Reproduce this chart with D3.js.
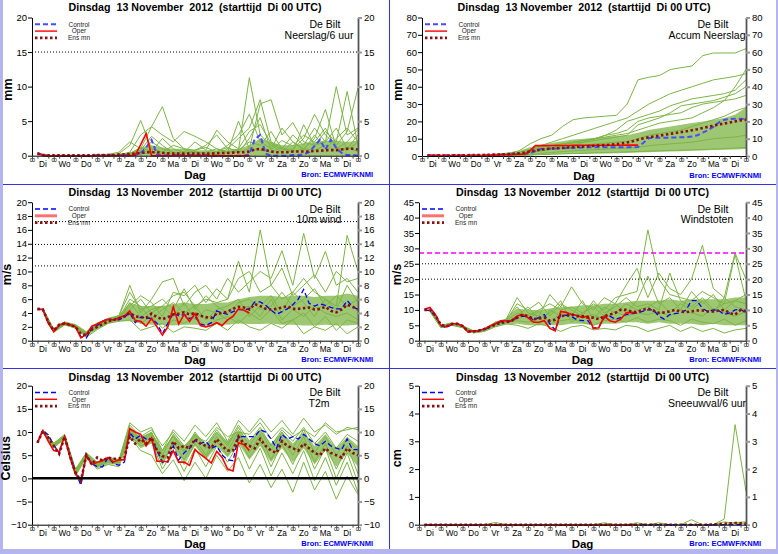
<!DOCTYPE html>
<html>
<head>
<meta charset="utf-8">
<script src="https://cdn.jsdelivr.net/npm/d3@7"></script>
<style>
body { margin: 0; background: #fff; }
text { font-family: "Liberation Sans", Arial, sans-serif; }
</style>
</head>
<body>
<script>
// x axis: 15 days from Di 00 UTC, values every 6 h (first at +6 h), members every 12 h
var days = ["Di","Wo","Do","Vr","Za","Zo","Ma","Di","Wo","Do","Vr","Za","Zo","Ma","Di"];
var title = "Dinsdag  13 November  2012  (starttijd  Di 00 UTC)";

// ---- Neerslag/6 uur (mm)
var precipCtrl = [0.4,0.1,0,0,0,0,0,0,0,0,0, 0.1,0.1,0.1,0.1,0.1,0.1,0.1,0.1, 0.4,1.2,2.3,0.2, 0,
  0.1,0.1,0.1,0.1,0.1,0.1,0.1,0.1, 0,0,0,0,0,0,0, 0.2,2.4,3.0,0.3, 0,0,0,0, 0.1,0.1,
  0.2,0.5,1.4,2.3,0.9,2.3,1.1,0.4,0.1,0.1,0];
var precipOper = [0.3,0.1, 0,0,0,0,0,0,0,0,0,0,0,0,0,0,0,0, 0.1,1.6,3.2,0,
  0,0,0,0,0,0,0,0,0,0,0,0,0,0,0,0,0,0];
var precipMean = [0.3,0.1,0.05,0.05,0.05,0.05,0.05,0.05,0.05,0.05,0.05,
  0.1,0.1,0.1,0.1,0.15,0.2,0.25,0.3,0.4,0.5,0.5,0.5,0.4,0.35,0.3,0.3,0.3,0.3,0.3,0.3,0.3,0.3,
  0.35,0.4,0.4,0.45,0.5,0.5,0.6,0.9,1.0,0.8,0.6,0.5,0.5,0.5,0.6,0.6,0.6,0.6,0.7,0.7,0.8,0.8,0.8,0.9,1.0,1.0,0.9];
var precipMembers = [
  [0,0,0,0,0,0,0.1,0.3,1.5,5.1,1.0,0.5,0.3,0.2,0.6,0.3,0.2,1.0,0.8,11.3,3.0,1.5,0.5,2.0,1.0,2.5,6.7,1.2,0.8,2.0],
  [0,0,0,0,0,0.1,0.2,0.5,2.0,1.0,4.2,7.1,2.5,1.0,0.8,1.5,3.0,1.0,2.5,4.0,8.1,2.0,1.0,3.0,1.5,4.0,2.0,10.0,3.0,4.0],
  [0,0,0,0,0,0,0,0.1,0.5,3.0,4.2,3.0,2.0,3.5,2.8,2.0,1.0,0.5,5.0,1.0,7.5,8.1,3.0,4.8,2.0,1.5,3.5,2.0,9.3,1.5],
  [0,0,0,0,0,0,0.1,0.2,0.3,1.2,0.6,2.5,1.0,0.5,2.0,0.8,3.7,2.0,1.0,3.5,4.5,1.8,0.8,1.0,2.5,6.0,3.0,1.5,3.5,9.8],
  [0,0,0,0,0,0,0,0,0.2,0.5,2.0,1.0,0.5,0.3,0.8,1.2,0.5,1.5,3.0,6.0,2.0,1.0,4.0,2.0,0.8,3.0,1.0,2.5,4.0,2.0],
  [0,0,0,0,0,0,0,0.1,0.1,0.3,1.0,0.5,1.5,1.0,0.3,0.5,1.0,0.5,0.8,2.0,1.5,3.5,1.0,0.5,4.5,1.5,2.0,4.0,1.0,3.0],
  [0,0,0,0,0,0,0,0,0,0.2,0.5,0.3,0.2,0.6,0.2,0.3,0.2,0.4,0.5,1.0,0.8,0.5,1.2,0.6,1.0,0.8,1.5,0.7,1.2,0.6],
  [0.1,0,0,0,0,0,0.1,0.2,0.4,0.8,2.8,1.5,0.4,0.3,0.5,0.2,0.6,1.2,0.4,2.5,5.5,0.8,2.2,1.4,3.0,2.0,4.0,1.0,2.0,3.8]
];
var precipBandLo = [0,0,0,0,0,0,0,0,0,0,0,0,0,0,0,0,0,0,0,0,0,0,0,0,0,0,0,0,0,0];
var precipBandHi = [0.1,0,0,0,0.1,0.1,0.1,0.2,0.4,1.2,1.5,1.2,1.0,1.0,0.8,0.8,0.8,0.8,1.0,1.5,2.5,2.0,1.5,1.5,1.8,2.0,2.2,2.2,2.0,2.2];

// ---- Accum Neerslag (mm)
var accumCtrl = [0.4,0.4,0.4,0.4,0.4,0.4,0.4,0.4,0.4,0.4,0.4,
  0.5,0.6,0.7,0.8,0.9,1.0,1.1,1.2,1.6,2.8,4.0,4.2,4.3,4.4,4.5,4.6,4.7,4.8,4.9,5.0,5.0,5.0,5.0,5.0,5.0,5.0,5.0,5.0,
  5.2,7.6,10.3,10.6,10.6,10.6,10.6,10.7,10.8,10.9,11.2,12.0,13.5,15.0,17.0,19.5,21.0,21.4,21.5,21.5,21.3];
var accumOper = [0.3,0.3,0.3,0.3,0.3,0.3,0.3,0.3,0.3,0.3,0.3,0.4,0.5,0.6,0.7,0.8,0.9,1.0,1.1,3.0,6.0,
  6.0,6.0,6.1,6.1,6.1,6.1,6.2,6.2,6.2,6.2,6.2,6.2,6.2,6.2,6.2,6.2,6.3,6.3,6.3];
var accumMean = [0.3,0.3,0.3,0.3,0.3,0.4,0.4,0.4,0.5,0.5,0.6,
  0.7,0.8,0.9,1.0,1.1,1.3,1.6,2.0,2.6,3.2,3.7,4.0,4.3,4.5,4.7,4.9,5.1,5.3,5.5,5.7,5.9,6.1,6.3,6.6,6.9,
  7.3,7.8,8.5,9.4,10.2,10.8,11.3,11.8,12.3,12.8,13.3,13.8,14.3,14.9,15.5,16.2,16.9,17.5,18.2,18.8,19.4,20.0,20.6,21.0];
var accumMembers = [
  [0,0,0,0,0,0.3,0.8,1.5,3.0,7.0,10.0,12.0,17.0,21.0,22.0,22.5,23.0,23.5,30.0,44.0,45.5,46.5,50.0,51.0,52.0,58.0,59.5,59.5,59.5,62.0],
  [0,0,0,0,0,0.2,0.5,1.0,2.0,4.0,6.0,8.0,10.0,12.0,14.0,16.0,18.0,20.0,22.0,26.0,30.0,33.0,36.0,38.0,40.0,42.0,44.0,45.0,46.0,47.5],
  [0,0,0,0,0,0.1,0.3,0.6,1.0,2.5,4.0,5.0,6.0,8.0,9.0,10.0,11.0,12.0,13.0,15.0,17.0,19.0,20.0,21.0,22.0,25.0,28.0,32.0,40.0,50.0],
  [0,0,0,0,0,0,0.2,0.5,1.0,3.0,5.0,6.0,7.0,8.0,9.0,10.0,12.0,13.0,15.0,20.0,22.0,23.0,24.0,25.0,28.0,30.0,31.0,32.0,33.0,35.0],
  [0,0,0,0,0,0,0.1,0.3,0.6,2.0,3.0,4.0,4.5,5.0,6.0,7.0,7.5,8.0,8.5,10.0,12.0,13.0,14.0,15.0,17.0,19.0,21.0,23.0,26.0,28.0],
  [0,0,0,0,0,0,0.1,0.2,0.4,1.0,1.5,2.0,2.5,3.0,3.3,3.6,4.0,4.3,4.6,5.0,6.0,6.5,7.0,7.5,8.0,9.0,10.0,10.5,11.0,12.0],
  [0,0,0,0,0,0,0,0.1,0.2,0.5,0.8,1.0,1.2,1.4,1.6,1.8,2.0,2.2,2.4,2.6,2.8,3.0,3.2,3.4,3.6,3.8,4.0,4.3,4.6,5.0],
  [0,0,0,0,0,0.1,0.3,0.6,1.2,3.5,5.0,6.0,7.0,7.5,8.0,9.0,10.0,11.0,12.0,18.0,20.0,22.0,25.0,29.0,30.0,31.0,32.0,34.0,36.0,40.0],
  [0,0,0,0,0,0,0.2,0.4,0.8,2.0,3.0,4.0,5.0,6.0,8.0,10.0,12.0,15.0,20.0,22.0,24.0,26.0,29.0,31.0,33.0,34.0,35.0,36.0,38.0,44.0]
];
var accumBandLo = [0,0,0,0,0,0,0,0.1,0.2,0.5,0.8,1.0,1.1,1.2,1.3,1.4,1.5,1.6,1.7,2.0,2.2,2.4,2.6,2.8,3.0,3.2,3.4,3.6,3.8,4.0];
var accumBandHi = [0.3,0.3,0.4,0.5,0.7,1.0,1.4,2.0,3.0,5.0,6.5,7.5,8.5,9.5,10.0,10.5,11.0,11.5,12.0,13.5,15.0,16.0,17.0,18.0,19.0,20.0,21.0,22.0,24.0,28.0];

// ---- 10m wind (m/s)
var windCtrl = [4.6,4.5,2.6,1.3,2.2,2.5,2.3,2.0,0.6,0.4, 1.8,2.2,2.8,3.2,3.0,3.0,3.4,4.0,2.6,3.4,
  3.3,3.2,2.5,1.0,2.5,4.0,3.6,3.8,3.2,3.5, 2.4,2.2,2.6,4.3,4.0,3.8,4.2,4.5,4.5,4.6,
  5.6,5.6,5.1,4.4,3.8,4.2,4.6,5.2,6.0,7.4, 5.4,5.0,5.3,5.1,4.8,4.6,4.6,5.8,4.9,4.5];
var windOper = [4.5,4.5,2.5,1.3,2.3,2.5,2.3,2.0,0.4,0.9, 2.1,2.4,2.8,3.1,3.0,3.3,3.6,4.3,2.9,2.8,
  2.1,3.2,2.0,0.8,2.0,4.9,2.4,3.8,2.8,3.9, 2.2,2.0,2.2,2.6,2.2,3.0,3.5,4.6,4.4,4.0];
var windMean = [4.6,4.5,2.7,1.5,2.3,2.5,2.3,2.0,1.0,0.8, 1.6,2.0,2.4,2.8,3.0,3.2,3.5,4.0,3.5,3.4,
  3.3,3.9,3.4,3.1,3.4,3.8,3.9,4.1,3.8,4.0, 3.6,3.4,3.3,3.9,4.0,4.2,4.6,4.9,4.8,4.5,
  5.3,5.0,4.6,4.5,4.6,4.8,5.0,4.6,4.6,4.7, 4.8,4.5,4.6,4.9,4.3,4.1,4.5,5.2,4.9,4.5];
var windMembers = [
  [4.5,1.5,2.5,2.1,1.0,2.4,3.2,3.5,4.5,6.0,4.0,5.0,6.5,7.0,5.0,6.0,5.5,6.0,11.5,7.0,16.0,8.0,6.0,7.0,9.0,7.0,6.0,5.0,15.2,10.0],
  [4.4,1.4,2.6,2.0,1.2,2.6,3.0,3.6,8.0,4.0,6.0,8.5,9.0,5.0,7.0,8.0,6.0,9.0,7.0,8.5,10.0,9.0,13.0,8.0,15.5,9.0,12.9,8.0,9.0,7.0],
  [4.5,1.2,2.3,1.8,0.5,1.6,2.5,2.8,3.0,1.5,2.0,2.5,1.2,2.0,1.8,1.5,2.5,1.5,3.0,2.0,1.5,2.5,1.8,3.0,1.0,2.0,1.5,2.5,1.0,2.0],
  [4.7,1.6,2.4,2.1,0.8,2.0,2.8,3.3,6.0,5.0,3.0,4.5,5.5,4.0,5.0,3.0,4.5,5.0,6.0,3.5,5.0,6.5,4.0,7.0,5.5,3.5,6.0,4.5,8.0,5.5],
  [4.6,1.3,2.5,2.3,1.1,2.2,3.0,3.4,5.0,6.5,5.5,3.5,7.0,6.5,8.0,5.5,7.5,6.0,9.0,10.0,7.0,8.0,10.5,6.5,8.0,9.5,7.0,10.0,8.5,9.0],
  [4.5,1.5,2.7,2.0,0.9,1.8,2.6,3.2,4.0,2.5,3.5,1.8,3.0,2.5,3.5,2.0,3.0,3.5,2.5,4.0,3.0,4.5,2.5,3.0,4.0,2.0,3.5,1.5,3.0,2.5],
  [4.6,1.4,2.4,2.2,1.0,2.3,3.1,3.6,7.0,4.5,5.0,6.0,4.5,7.5,4.5,6.5,5.0,4.0,5.5,6.0,4.5,5.0,7.0,5.0,6.0,7.5,5.0,6.5,5.0,6.0],
  [4.5,1.6,2.6,1.9,0.7,2.1,2.9,3.0,5.5,3.5,4.5,5.0,3.5,5.5,3.0,4.5,4.0,3.0,4.5,5.0,3.5,6.0,3.0,4.5,3.5,5.0,4.0,3.5,4.0,3.0]
];
var windBandLo = [4.3,1.2,2.2,1.8,0.6,1.7,2.5,2.8,2.8,2.5,2.3,2.3,2.2,2.3,2.3,2.2,2.4,2.3,2.5,2.4,2.4,2.5,2.3,2.3,2.2,2.2,2.3,2.2,2.2,2.3];
var windBandHi = [4.8,1.8,2.8,2.4,1.4,2.5,3.3,3.7,5.5,5.0,5.0,5.0,5.3,5.5,5.3,5.3,5.5,5.5,6.0,6.3,6.5,6.5,6.3,6.5,6.5,6.3,6.5,6.5,6.8,6.5];

// ---- Windstoten (m/s)
var gustCtrl = [10.0,9.8,8.0,5.0,4.2,5.3,5.5,4.8,3.0,3.0, 3.2,3.6,4.5,5.5,6.2,6.0,6.5,7.5,8.0,7.8,
  6.8,7.5,8.5,5.5,3.5,8.5,8.2,7.8,6.8,6.5, 6.5,4.0,4.5,7.5,8.0,7.0,7.5,8.5,8.8,9.0,
  9.5,10.0,10.0,8.0,7.0,8.5,8.8,9.0,10.0,13.0, 13.0,10.5,9.5,10.0,9.8,8.5,9.0,10.0,10.2,9.0];
var gustOper = [10.2,10.8,8.5,5.0,4.5,5.5,5.6,4.8,2.8,3.2, 3.3,3.8,4.8,5.5,6.5,6.5,6.5,8.0,8.5,7.5,
  6.0,6.0,6.5,4.0,3.2,9.5,9.2,8.5,8.2,7.5, 8.0,4.0,4.2,8.0,6.5,6.0,7.0,9.0,9.2,9.0];
var gustMean = [10.0,10.0,8.2,5.2,4.6,5.4,5.5,4.8,3.0,3.0, 3.3,3.8,4.5,5.2,5.8,6.0,6.5,7.5,8.5,8.0,
  7.0,7.2,7.5,6.5,6.8,8.0,8.2,8.5,8.0,8.0, 7.5,7.5,7.0,8.0,8.5,9.0,10.0,10.0,9.5,9.3,
  10.0,10.5,9.8,9.0,9.2,9.5,10.0,9.5,9.3,9.5, 9.8,9.8,9.5,9.5,9.8,10.0,9.0,8.5,10.0,9.5];
var gustMembers = [
  [10,4.8,5.5,4.5,3.0,3.5,6.0,6.5,9.0,8.0,10.0,12.0,10.0,11.0,9.0,12.0,10.0,14.0,15.0,16.0,36.0,20.0,15.0,14.0,13.0,16.0,14.0,12.0,13.0,15.0],
  [9.8,4.5,5.6,4.8,2.8,3.8,5.5,7.0,14.0,9.0,8.0,15.0,11.0,17.5,12.0,10.0,14.0,12.0,18.0,23.5,14.0,22.0,17.0,15.0,20.0,31.0,17.0,14.0,28.5,20.0],
  [9.5,4.2,5.0,4.2,2.5,3.0,4.5,5.5,5.0,4.0,5.5,4.5,3.0,4.5,5.0,3.5,4.0,3.5,5.0,4.5,3.0,4.0,5.0,3.0,4.5,3.0,4.0,2.5,3.5,4.0],
  [10.2,5.0,5.8,4.6,3.2,3.6,5.8,6.8,11.0,7.0,9.5,6.0,9.0,8.0,13.0,7.0,11.0,9.0,12.0,10.0,11.0,13.0,9.0,12.0,10.0,13.0,9.0,14.0,11.0,10.0],
  [10.0,4.6,5.4,4.4,2.9,3.4,5.2,6.2,8.0,11.0,7.0,9.0,13.0,6.0,9.0,11.0,8.0,12.0,9.0,13.0,21.0,12.0,14.0,10.0,16.0,12.0,15.0,10.0,13.0,12.0],
  [9.7,4.4,5.2,4.9,3.1,3.7,5.0,6.0,6.5,6.0,7.0,5.5,6.5,7.0,6.0,5.0,6.5,7.0,6.0,7.5,6.0,7.0,6.5,5.0,7.0,6.0,5.5,7.0,5.0,6.5],
  [10.1,4.7,5.7,4.7,2.7,3.3,5.6,6.6,12.0,10.0,12.5,8.0,12.0,10.0,8.0,13.0,9.0,11.0,14.0,11.0,12.0,10.0,22.0,13.0,11.0,14.0,10.0,12.0,28.0,13.0],
  [9.9,4.9,5.3,4.3,2.6,3.5,5.4,6.3,7.0,8.5,5.0,10.0,8.0,9.0,7.5,8.5,7.0,9.5,8.0,9.0,8.5,9.5,8.0,10.0,9.0,8.0,10.5,9.0,8.0,9.5]
];
var gustBandLo = [9.5,4.2,5.0,4.2,2.5,3.0,4.5,5.2,5.5,5.0,5.0,5.0,5.0,5.5,5.5,5.0,5.5,5.5,6.0,6.0,5.5,6.0,5.5,5.5,5.5,5.0,5.5,5.0,5.0,5.0];
var gustBandHi = [10.3,5.1,5.8,5.0,3.3,3.9,6.2,7.2,10.5,10.0,10.0,10.5,11.0,11.0,11.5,11.5,12.0,12.0,12.5,13.0,13.0,13.0,13.5,13.0,13.5,13.5,13.5,13.5,14.0,14.0];

// ---- T2m (Celsius)
var tempCtrl = [7.7,10.4,9.4,7.2,5.5,9.0,5.0,1.5,-1.5,5.0, 3.2,2.5,2.5,4.5,3.2,2.8,3.5,9.8,8.5,9.3,
  8.5,8.5,6.0,3.5,3.5,7.0,4.0,5.5,6.5,8.2, 7.5,8.0,6.5,7.0,5.0,4.0,3.8,9.0,9.0,9.0,
  9.0,10.5,10.0,8.5,6.5,9.5,8.5,9.0,8.5,9.5, 8.5,7.5,7.0,8.0,7.0,6.5,6.2,8.5,6.2,6.2];
var tempOper = [7.7,10.3,8.0,6.0,5.8,9.0,4.5,1.0,-0.5,5.0, 3.0,3.5,3.8,4.5,3.5,4.0,4.0,10.7,10.0,9.5,
  7.0,8.7,3.7,3.7,3.6,6.0,3.5,3.5,2.8,6.2, 5.2,4.3,3.3,5.8,4.5,2.0,1.6,7.7,7.3,6.0];
var tempMean = [7.7,10.2,8.8,7.0,5.3,9.0,4.8,1.2,-0.5,5.0, 3.0,4.5,3.8,4.5,4.2,4.3,4.5,9.0,7.5,8.5,
  7.5,8.8,6.0,4.8,4.5,8.0,6.5,7.0,6.5,8.5, 7.5,7.0,6.5,8.5,7.0,6.0,6.0,9.0,7.5,7.0,
  6.5,8.5,7.0,6.0,5.5,8.0,7.0,6.5,6.0,7.5, 6.5,5.5,5.0,6.5,5.5,5.0,4.5,6.5,5.5,5.0];
var tempMembers = [
  [10.4,7.5,9.5,2.0,5.5,3.5,4.5,4.0,12.0,10.0,11.0,6.0,10.5,8.0,11.5,9.0,12.0,8.0,12.5,10.0,13.0,10.0,12.5,9.5,13.0,10.0,11.5,9.5,11.0,10.5],
  [10.2,6.8,8.5,0.5,4.5,2.0,3.0,2.5,9.0,6.0,5.0,1.0,4.0,-0.5,3.5,0.0,5.0,1.5,4.5,-1.0,3.0,-2.0,2.0,-3.0,3.5,-2.5,1.5,-4.5,0.5,-3.5],
  [10.0,7.0,9.0,1.0,5.0,2.8,4.0,3.5,10.5,7.5,9.0,3.0,8.0,4.0,8.5,5.0,9.0,6.0,10.0,5.5,9.5,4.0,8.5,5.0,9.0,3.5,7.5,2.0,7.0,1.0],
  [10.5,7.2,9.2,1.5,5.2,3.0,4.2,3.8,11.0,8.5,10.0,5.0,9.5,6.0,10.0,7.0,10.5,7.5,11.5,8.0,11.0,7.0,10.5,8.0,11.0,7.5,10.0,6.5,9.5,8.0],
  [10.1,6.5,8.8,1.2,4.8,2.5,3.5,3.0,9.5,7.0,8.0,2.0,6.0,1.5,6.5,2.5,7.0,3.5,7.5,2.0,6.5,0.5,5.5,1.0,6.0,-0.5,4.5,-1.5,3.5,-3.0],
  [10.3,7.6,9.3,1.8,5.4,3.2,4.4,3.7,11.5,9.0,10.5,7.0,10.0,7.0,9.0,8.0,11.0,9.0,10.0,9.5,12.0,8.5,11.0,9.0,10.5,9.0,12.0,10.0,10.5,11.0],
  [10.2,7.0,8.7,0.8,4.9,2.7,3.8,3.3,10.0,8.0,9.5,4.0,7.0,3.0,7.5,4.5,8.0,5.0,9.0,4.5,8.0,2.5,7.5,3.0,8.0,2.0,6.5,0.0,5.5,-1.0],
  [10.4,7.3,9.1,1.6,5.1,2.9,4.1,3.6,10.8,8.0,9.8,6.0,9.0,5.5,9.5,6.5,10.0,7.0,11.0,7.0,10.5,6.0,10.0,6.5,10.5,5.5,9.0,5.0,8.5,6.0]
];
var tempBandLo = [9.8,6.5,8.5,0.5,4.5,2.2,3.0,3.0,9.0,6.5,7.5,3.0,7.0,3.5,7.0,4.0,7.0,4.5,7.5,4.0,7.0,3.5,6.5,3.5,6.5,3.0,6.0,2.5,5.5,2.5];
var tempBandHi = [10.6,7.6,9.3,1.8,5.5,3.3,4.6,4.2,11.0,9.0,10.0,6.0,9.5,7.0,9.8,7.5,10.0,8.0,10.5,8.0,10.5,7.5,10.0,7.5,10.0,7.0,9.5,6.5,9.0,7.0];

// ---- Sneeuwval/6 uur (cm)
var snowCtrl = [0,0,0,0,0,0,0,0,0,0, 0,0,0,0,0,0,0,0,0,0, 0,0,0,0,0,0,0,0,0,0,
  0,0,0,0,0,0,0,0,0,0, 0,0,0,0,0,0,0,0,0,0, 0,0,0,0,0,0,0,0,0,0];
var snowOper = [0,0,0,0,0,0,0,0,0,0, 0,0,0,0,0,0,0,0,0,0, 0,0,0,0,0,0,0,0,0,0, 0,0,0,0,0,0,0,0,0,0];
var snowMean = [0,0,0,0,0,0,0,0,0,0, 0,0,0,0,0,0,0,0,0,0, 0,0,0,0,0,0,0,0,0,0,
  0,0,0,0,0,0,0,0,0,0, 0,0,0,0,0,0,0,0,0,0, 0,0,0,0.01,0.02,0.03,0.05,0.06,0.05,0.04];
var snowMembers = [
  [0,0,0,0,0,0,0.08,0,0,0,0,0,0,0,0,0,0.07,0,0,0,0,0,0,0,0.18,0,0,0.2,3.6,1.2],
  [0,0,0,0,0,0,0,0,0,0,0,0,0,0,0,0,0,0,0,0.07,0,0.07,0,0,0,0,0,0.1,0.05,0.05],
  [0,0,0,0,0,0,0,0,0,0,0,0,0,0,0,0,0,0,0,0,0,0,0,0,0,0,0,0,0.08,0.1]
];

var green = "#7db446";

var svg = d3.select("body")
  .append("svg")
  .attr("width", 778)
  .attr("height", 554);

svg.append("rect").attr("width", 778).attr("height", 554).attr("fill", "#b4b4f0");
svg.append("rect").attr("x", 3).attr("y", 0).attr("width", 773).attr("height", 549).attr("fill", "#fff");
var defs = svg.append("defs");

function series(values, start, step) {
  return values.map(function(v, i) { return [start + i * step, v]; });
}

function drawPanel(p, idx) {
  var x = d3.scaleLinear().domain([0, 360]).range([p.left, p.right]);
  var y = d3.scaleLinear().domain([p.yMin, p.yMax]).range([p.bottom, p.top]);
  var g = svg.append("g");

  defs.append("clipPath").attr("id", "clip" + idx)
    .append("rect")
    .attr("x", p.left).attr("y", p.top - 1)
    .attr("width", p.right - p.left).attr("height", p.bottom - p.top + 2);

  var line = d3.line().x(function(d) { return x(d[0]); }).y(function(d) { return y(d[1]); });
  var plot = g.append("g").attr("clip-path", "url(#clip" + idx + ")");

  // ensemble spread core
  var band = p.bandLo.map(function(lo, i) { return { h: 12 + i * 12, lo: lo, hi: p.bandHi[i] }; });
  plot.append("path")
    .datum(band)
    .attr("d", d3.area().x(function(d) { return x(d.h); })
      .y0(function(d) { return y(d.lo); }).y1(function(d) { return y(d.hi); }))
    .attr("fill", green).attr("fill-opacity", 0.75).attr("stroke", "none");

  p.members.forEach(function(m) {
    plot.append("path")
      .datum(series(m, 12, 12))
      .attr("d", line)
      .attr("fill", "none").attr("stroke", green).attr("stroke-width", 1);
  });

  p.refLines.forEach(function(r) {
    g.append("line")
      .attr("x1", p.left).attr("x2", p.right)
      .attr("y1", y(r.v)).attr("y2", y(r.v))
      .attr("stroke", r.color).attr("stroke-width", r.width)
      .attr("stroke-dasharray", r.dash);
  });

  plot.append("path").datum(series(p.ctrl, 6, 6)).attr("d", line)
    .attr("fill", "none").attr("stroke", p.ctrlColor).attr("stroke-width", p.ctrlWidth)
    .attr("stroke-dasharray", "5,3");
  plot.append("path").datum(series(p.oper, 6, 6)).attr("d", line)
    .attr("fill", "none").attr("stroke", "#ff0000").attr("stroke-width", 1.6);
  plot.append("path").datum(series(p.mean, 6, 6)).attr("d", line)
    .attr("fill", "none").attr("stroke", "#8b1010").attr("stroke-width", 2.6)
    .attr("stroke-dasharray", "2.5,2.5");

  // axes
  var yTicks = d3.range(p.yMin, p.yMax + p.yStep / 2, p.yStep);
  var fmt = d3.format("d");
  var left = g.append("g").attr("transform", "translate(" + p.left + ",0)")
    .call(d3.axisLeft(y).tickValues(yTicks).tickFormat(fmt).tickSize(4).tickSizeOuter(0).tickPadding(1));
  left.selectAll("text").attr("font-size", 9.5).attr("font-family", "Liberation Sans, Arial").attr("fill", "#000");

  var right = g.append("g").attr("transform", "translate(" + p.right + ",0)")
    .call(d3.axisRight(y).tickValues(yTicks).tickFormat(fmt).tickSize(4).tickSizeOuter(0).tickPadding(2));
  right.select(".domain").attr("stroke", "#555").attr("stroke-width", 1.8);
  right.selectAll(".tick line").attr("stroke", "#999").attr("stroke-width", 2);
  right.selectAll("text").attr("font-size", 9.5).attr("font-family", "Liberation Sans, Arial").attr("fill", "#000");

  var xTicks = d3.range(0, 361, 6).filter(function(h) { return h % 24 !== 12; });
  g.append("g").attr("transform", "translate(0," + p.bottom + ")")
    .call(d3.axisBottom(x).tickValues(xTicks).tickSize(3).tickSizeOuter(0).tickFormat(""))
    .selectAll(".tick line").attr("stroke", "#444");

  if (p.zeroLine) {
    g.append("line").attr("x1", p.left).attr("x2", p.right)
      .attr("y1", y(0)).attr("y2", y(0))
      .attr("stroke", "#000").attr("stroke-width", 2.5);
  }

  // day labels
  d3.range(0, 16).forEach(function(d) {
    g.append("text").attr("x", x(d * 24)).attr("y", p.bottom + 5.8)
      .attr("text-anchor", "middle").attr("font-size", 5.5).attr("letter-spacing", -0.8)
      .text("00");
  });
  days.forEach(function(name, i) {
    g.append("text").attr("x", x(i * 24 + 12)).attr("y", p.bottom + 11)
      .attr("text-anchor", "middle").attr("font-size", 8.2)
      .text(name);
  });
  g.append("text").attr("x", (p.left + p.right) / 2).attr("y", p.bottom + 23.5)
    .attr("text-anchor", "middle").attr("font-size", 11.5).attr("font-weight", "bold")
    .text("Dag");
  g.append("text").attr("x", p.right + 15).attr("y", p.bottom + 21.5)
    .attr("text-anchor", "end").attr("font-size", 7.5).attr("font-weight", "bold")
    .attr("fill", "#0000ff")
    .text("Bron: ECMWF/KNMI");

  // titles
  g.append("text").attr("x", (p.left + p.right) / 2).attr("y", p.titleY)
    .attr("text-anchor", "middle").attr("font-size", 11).attr("font-weight", "bold")
    .attr("textLength", 253).attr("lengthAdjust", "spacingAndGlyphs")
    .style("white-space", "pre")
    .text(title);
  g.append("text")
    .attr("transform", "translate(" + (p.left - p.yLabelDx) + "," + ((p.top + p.bottom) / 2 + 3) + ") rotate(-90)")
    .attr("text-anchor", "middle").attr("font-size", 12.5).attr("font-weight", "bold")
    .text(p.yLabel);
  g.append("text").attr("x", p.right - 33).attr("y", p.top + 10.3)
    .attr("text-anchor", "middle").attr("font-size", 10.5)
    .text("De Bilt");
  g.append("text").attr("x", p.right - 39).attr("y", p.top + 21)
    .attr("text-anchor", "middle").attr("font-size", 10.5)
    .text(p.name);

  // legend
  var lx = p.left + 3;
  var leg = [
    { label: "Control", dy: 6.8, color: p.ctrlColor, width: p.ctrlWidth, dash: "5,3" },
    { label: "Oper", dy: 13.6, color: p.operLegendColor, width: p.operLegendWidth, dash: null },
    { label: "Ens mn", dy: 20.4, color: "#8b1010", width: 2.6, dash: "2.5,2.5" }
  ];
  leg.forEach(function(l) {
    g.append("line").attr("x1", lx).attr("x2", lx + 22)
      .attr("y1", p.top + l.dy).attr("y2", p.top + l.dy)
      .attr("stroke", l.color).attr("stroke-width", l.width)
      .attr("stroke-dasharray", l.dash);
    g.append("text").attr("x", p.left + 47).attr("y", p.top + l.dy + 2.3)
      .attr("text-anchor", "middle").attr("font-size", 6.5).attr("fill", "#222")
      .text(l.label);
  });
}

var panels = [
  { left: 32, right: 358, top: 17.5, bottom: 155.7, titleY: 11.3, yMin: 0, yMax: 20, yStep: 5,
    yLabel: "mm", yLabelDx: 20, name: "Neerslag/6 uur",
    ctrl: precipCtrl, oper: precipOper, mean: precipMean, members: precipMembers,
    bandLo: precipBandLo, bandHi: precipBandHi,
    refLines: [{ v: 15, color: "#000", width: 1, dash: "1,2" }],
    ctrlColor: "#4a4aff", ctrlWidth: 2, operLegendColor: "#ff0000", operLegendWidth: 1.4 },
  { left: 422, right: 746, top: 17.5, bottom: 156, titleY: 11.3, yMin: 0, yMax: 80, yStep: 10,
    yLabel: "mm", yLabelDx: 20, name: "Accum Neerslag",
    ctrl: accumCtrl, oper: accumOper, mean: accumMean, members: accumMembers,
    bandLo: accumBandLo, bandHi: accumBandHi, refLines: [],
    ctrlColor: "#4a4aff", ctrlWidth: 2, operLegendColor: "#ff0000", operLegendWidth: 1.4 },
  { left: 32, right: 358, top: 202.2, bottom: 340.7, titleY: 196, yMin: 0, yMax: 20, yStep: 2,
    yLabel: "m/s", yLabelDx: 21, name: "10m wind",
    ctrl: windCtrl, oper: windOper, mean: windMean, members: windMembers,
    bandLo: windBandLo, bandHi: windBandHi,
    refLines: [{ v: 10.8, color: "#000", width: 1, dash: "1,2" },
               { v: 13.9, color: "#000", width: 1, dash: "1,2" },
               { v: 17.2, color: "#000", width: 1, dash: "1,2" }],
    ctrlColor: "#0000ff", ctrlWidth: 1.3, operLegendColor: "#ff7070", operLegendWidth: 3 },
  { left: 419, right: 746, top: 202.2, bottom: 340.7, titleY: 196, yMin: 0, yMax: 45, yStep: 5,
    yLabel: "m/s", yLabelDx: 18, name: "Windstoten",
    ctrl: gustCtrl, oper: gustOper, mean: gustMean, members: gustMembers,
    bandLo: gustBandLo, bandHi: gustBandHi,
    refLines: [{ v: 20, color: "#000", width: 1, dash: "1,2" },
               { v: 25, color: "#000", width: 1, dash: "1,2" },
               { v: 28.5, color: "#ff00ff", width: 1.3, dash: "5,3" }],
    ctrlColor: "#0000ff", ctrlWidth: 1.3, operLegendColor: "#ff7070", operLegendWidth: 3 },
  { left: 32, right: 358, top: 385.7, bottom: 524.7, titleY: 380.5, yMin: -10, yMax: 20, yStep: 5,
    yLabel: "Celsius", yLabelDx: 22, name: "T2m", zeroLine: true,
    ctrl: tempCtrl, oper: tempOper, mean: tempMean, members: tempMembers,
    bandLo: tempBandLo, bandHi: tempBandHi, refLines: [],
    ctrlColor: "#0000ff", ctrlWidth: 1.3, operLegendColor: "#ff0000", operLegendWidth: 1.4 },
  { left: 419, right: 746, top: 385.7, bottom: 524.7, titleY: 380.5, yMin: 0, yMax: 5, yStep: 1,
    yLabel: "cm", yLabelDx: 18, name: "Sneeuwval/6 uur",
    ctrl: snowCtrl, oper: snowOper, mean: snowMean, members: snowMembers,
    bandLo: [], bandHi: [], refLines: [],
    ctrlColor: "#0000ff", ctrlWidth: 1.3, operLegendColor: "#ff0000", operLegendWidth: 1.4 }
];

panels.forEach(function(p, i) { drawPanel(p, i); });

// panel separators
svg.append("line").attr("x1", 3).attr("x2", 776).attr("y1", 184.5).attr("y2", 184.5)
  .attr("stroke", "#3333dd").attr("stroke-width", 1);
svg.append("line").attr("x1", 3).attr("x2", 776).attr("y1", 368.5).attr("y2", 368.5)
  .attr("stroke", "#3333dd").attr("stroke-width", 1);
svg.append("line").attr("x1", 389.5).attr("x2", 389.5).attr("y1", 0).attr("y2", 549)
  .attr("stroke", "#3333dd").attr("stroke-width", 1);
</script>
</body>
</html>
